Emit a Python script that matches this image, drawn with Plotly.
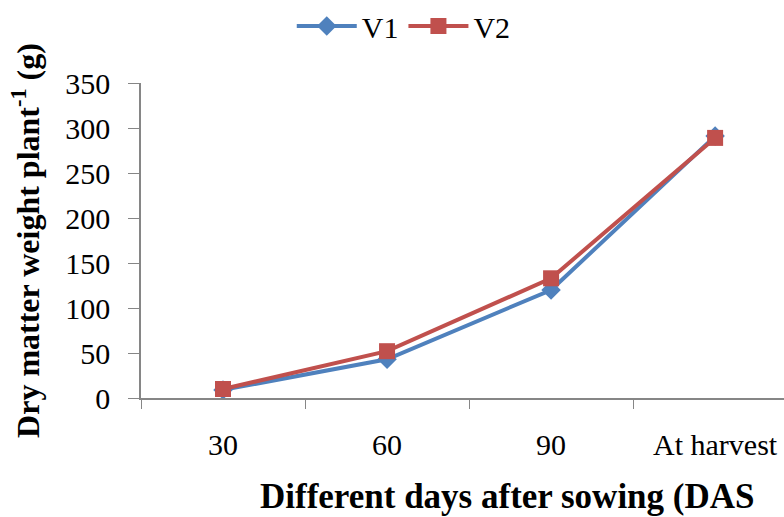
import plotly.graph_objects as go

categories = ["30", "60", "90", "At harvest"]
v1 = [9, 43, 120, 291]
v2 = [10, 52, 133, 289]
x_title = "Different days after sowing (DAS"
y_title = "Dry matter weight plant<sup>-1</sup> (g)"

fig = go.Figure()
fig.add_trace(go.Scatter(x=categories, y=v1, name="V1", mode="lines+markers",
                         line=dict(color="#4F81BD", width=4),
                         marker=dict(symbol="diamond", size=15, color="#4F81BD")))
fig.add_trace(go.Scatter(x=categories, y=v2, name="V2", mode="lines+markers",
                         line=dict(color="#C0504D", width=4),
                         marker=dict(symbol="square", size=16, color="#C0504D")))

font_family = "Times New Roman, Liberation Serif, serif"
fig.update_layout(
    width=784, height=517,
    margin=dict(l=141, r=0, t=83, b=119),
    paper_bgcolor="white", plot_bgcolor="white",
    font=dict(family=font_family, size=30, color="black"),
    showlegend=True,
    legend=dict(orientation="h", xref="container", yref="container",
                x=0.515, xanchor="center", y=1.0, yanchor="top",
                font=dict(size=30), itemwidth=60),
    xaxis=dict(type="category", range=[-0.5, 3.42],
               showline=True, linecolor="#868686", linewidth=1.5,
               ticks="outside", tickson="boundaries", ticklen=9,
               tickcolor="#868686", showgrid=False, zeroline=False,
               ticklabelstandoff=19, tickfont=dict(size=30)),
    yaxis=dict(range=[0, 350], tickvals=[0, 50, 100, 150, 200, 250, 300, 350],
               showline=True, linecolor="#868686", linewidth=1.5,
               ticks="outside", ticklen=11, tickcolor="#868686",
               showgrid=False, zeroline=False, ticklabelstandoff=12,
               tickfont=dict(size=30),
               title=dict(text="<b>" + y_title + "</b>",
                          font=dict(size=32), standoff=16)),
    annotations=[dict(text="<b>" + x_title + "</b>", xref="paper", yref="paper",
                      x=(507 - 141) / 643, y=(398 - 496) / 315,
                      xanchor="center", yanchor="middle", showarrow=False,
                      font=dict(size=35))],
)

fig.write_html("out.html")
